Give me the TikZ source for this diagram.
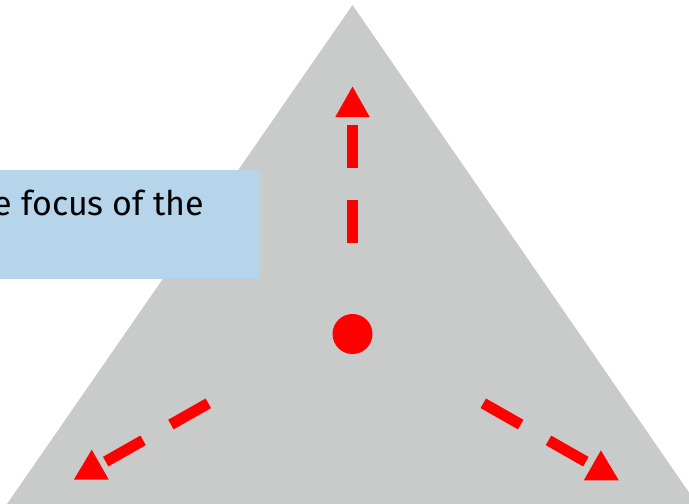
\documentclass[tikz,border=0pt]{standalone}
\usepackage{fontspec}
\setmainfont{Fira Sans}
\usetikzlibrary{arrows.meta}
\definecolor{trigray}{HTML}{C9CACA}
\definecolor{boxblue}{HTML}{B7D5EA}
\definecolor{arrred}{HTML}{FF0000}
\tikzset{
  redarrow/.style={draw=arrred, line width=11pt, line cap=butt,
    dash pattern=on 43pt off 32pt,
    -{Triangle[length=31pt,width=32pt,fill=arrred]}},
  dotnode/.style={circle, fill=arrred, inner sep=0pt, minimum size=40pt},
  bluebox/.style={fill=boxblue, inner sep=0pt, minimum width=260pt, minimum height=109pt, anchor=north west},
  boxtext/.style={inner sep=0pt, font=\fontsize{34}{40}\selectfont, text=black}
}
\begin{document}
\begin{tikzpicture}[x=1pt,y=1pt]
\useasboundingbox (0,0) rectangle (689,-504);
\clip (0,0) rectangle (689,-504);
% triangle
\fill[trigray] (352.5,-5) -- (697,-504) -- (7,-504) -- cycle;
% blue box
\node[bluebox] (box) at (0,-170) {};
\node[boxtext, anchor=base east] (txt) at (204,-215.5) {e focus of the};
% centre dot
\node[dotnode] (dot) at (352.5,-334) {};
% arrows
\coordinate (us) at (352.5,-243);
\coordinate (ut) at (352.5,-86);
\coordinate (ls) at (208.3,-403.3);
\coordinate (lt) at (73.3,-480);
\coordinate (rs) at (483.3,-403.3);
\coordinate (rt) at (619.3,-480.7);
\draw[redarrow] (us) -- (ut);
\draw[redarrow] (ls) -- (lt);
\draw[redarrow] (rs) -- (rt);
\end{tikzpicture}
\end{document}
